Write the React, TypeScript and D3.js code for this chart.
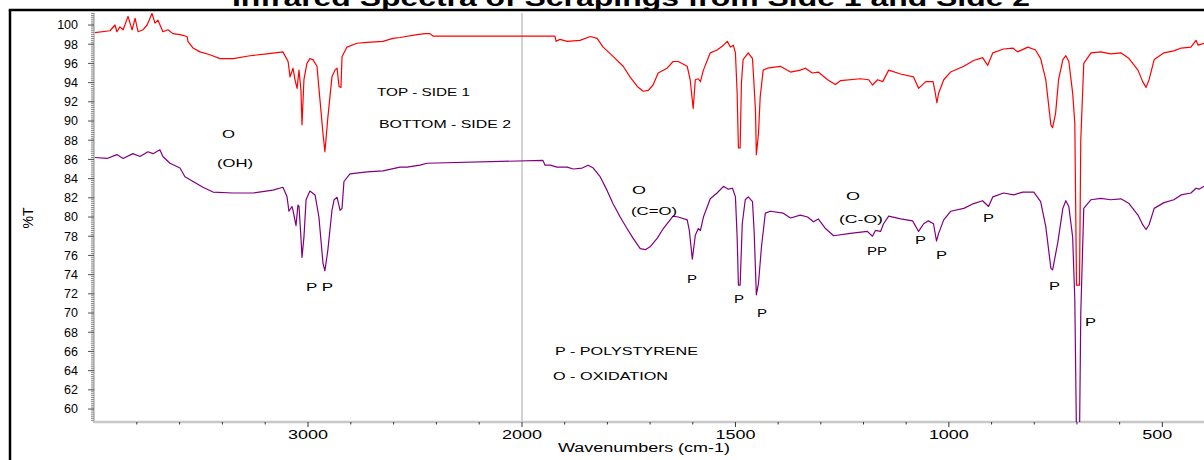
import React from 'react';
import * as d3 from 'd3';

// wavenumber (cm-1), %T
const side1: [number, number][] = [
  [3996, 99.2], [3925, 99.4], [3902, 100.0], [3893, 99.3], [3879, 99.8], [3864, 99.5],
  [3841, 100.9], [3822, 99.5], [3808, 100.7], [3794, 99.3], [3771, 99.5], [3752, 100.0],
  [3729, 101.2], [3715, 100.2], [3701, 100.5], [3678, 99.3], [3654, 99.5], [3631, 99.1],
  [3598, 99.0], [3565, 98.8], [3561, 98.3], [3537, 97.6], [3505, 97.2], [3458, 96.9],
  [3411, 96.5], [3350, 96.5], [3271, 96.8], [3192, 97.0], [3117, 97.2], [3093, 96.2],
  [3084, 94.6], [3070, 95.5], [3061, 94.3], [3051, 93.4], [3042, 95.3], [3033, 93.2],
  [3028, 89.6], [3019, 94.3], [3005, 96.0], [2991, 96.5], [2977, 96.4], [2958, 95.7],
  [2944, 92.2], [2930, 88.7], [2921, 86.8], [2907, 90.4], [2888, 94.6], [2874, 95.3],
  [2864, 95.5], [2855, 93.6], [2846, 93.5], [2841, 96.7], [2818, 97.7], [2771, 98.1],
  [2724, 98.2], [2650, 98.3], [2603, 98.6], [2570, 98.7], [2491, 99.0], [2453, 99.1],
  [2430, 99.1], [2416, 98.85], [1923, 98.85], [1920, 98.3], [1911, 98.5], [1894, 98.3],
  [1864, 98.4], [1840, 98.8], [1824, 98.6], [1810, 97.7], [1786, 96.7], [1763, 95.7],
  [1747, 94.6], [1730, 93.6], [1716, 93.1], [1704, 93.2], [1693, 93.75], [1681, 95.0],
  [1660, 95.5], [1646, 96.2], [1634, 96.2], [1613, 95.7], [1606, 94.3], [1599, 91.3],
  [1594, 94.3], [1587, 94.4], [1582, 94.1], [1575, 95.3], [1559, 97.1], [1543, 97.4],
  [1528, 97.9], [1519, 98.3], [1512, 97.7], [1505, 97.9], [1500, 97.1], [1496, 92.9],
  [1493, 87.2], [1489, 87.2], [1486, 93.9], [1482, 96.4], [1470, 97.1], [1460, 96.5],
  [1458, 95.0], [1453, 91.1], [1451, 86.5], [1446, 88.7], [1442, 92.5], [1435, 95.3],
  [1425, 95.5], [1395, 95.7], [1371, 95.1], [1348, 95.3], [1336, 95.5], [1320, 95.0],
  [1306, 95.1], [1284, 94.3], [1266, 93.8], [1254, 94.2], [1207, 94.4], [1188, 94.3],
  [1179, 93.75], [1167, 94.3], [1155, 94.1], [1141, 95.3], [1113, 94.9], [1083, 94.6],
  [1071, 93.4], [1054, 94.1], [1037, 94.1], [1033, 93.2], [1028, 91.9], [1024, 92.9],
  [1012, 94.3], [996, 95.1], [965, 95.7], [942, 96.3], [921, 96.6], [909, 95.8],
  [897, 97.1], [872, 97.5], [850, 97.6], [839, 97.2], [815, 97.7], [797, 97.4],
  [785, 96.5], [773, 94.3], [761, 89.6], [757, 89.3], [750, 90.8], [743, 94.3],
  [733, 96.4], [726, 96.8], [719, 96.2], [710, 92.9], [705, 89.8], [701, 72.9],
  [694, 72.9], [691, 88.0], [684, 96.0], [667, 97.1], [644, 97.2], [621, 97.0],
  [597, 97.1], [578, 96.5], [557, 95.3], [546, 94.1], [538, 93.5], [531, 94.3],
  [519, 96.4], [496, 97.1], [473, 97.3], [456, 97.6], [433, 97.7], [421, 98.4],
  [416, 97.9], [402, 98.1],
];

const side2: [number, number][] = [
  [3996, 86.2], [3939, 86.1], [3893, 86.5], [3864, 86.1], [3818, 86.6], [3785, 86.3],
  [3748, 86.8], [3724, 86.6], [3692, 87.0], [3678, 86.3], [3645, 85.6], [3598, 85.1],
  [3575, 84.2], [3537, 83.7], [3491, 83.1], [3444, 82.6], [3350, 82.5], [3257, 82.5],
  [3164, 82.8], [3117, 83.1], [3098, 82.1], [3089, 80.6], [3075, 81.1], [3070, 80.7],
  [3056, 79.1], [3047, 81.25], [3042, 81.1], [3033, 77.9], [3028, 75.8], [3019, 77.9],
  [3009, 81.8], [2991, 82.7], [2967, 82.3], [2949, 80.0], [2930, 75.2], [2921, 74.4],
  [2907, 76.6], [2888, 80.7], [2878, 81.8], [2864, 82.05], [2850, 80.7], [2841, 80.9],
  [2832, 83.7], [2804, 84.5], [2724, 84.7], [2650, 84.8], [2570, 85.2], [2537, 85.2],
  [2477, 85.4], [2444, 85.6], [1951, 85.9], [1946, 85.4], [1934, 85.4], [1918, 85.2],
  [1894, 85.2], [1880, 85.0], [1859, 85.1], [1845, 85.4], [1833, 85.1], [1817, 84.2],
  [1801, 82.8], [1787, 81.4], [1770, 80.0], [1754, 78.8], [1740, 77.8], [1723, 76.7],
  [1711, 76.6], [1700, 76.9], [1683, 77.8], [1669, 78.8], [1653, 79.7], [1646, 80.1],
  [1634, 80.0], [1613, 79.7], [1608, 78.6], [1601, 75.6], [1594, 78.1], [1587, 78.8],
  [1582, 78.6], [1575, 80.0], [1559, 81.9], [1543, 82.5], [1528, 83.2], [1517, 82.9],
  [1507, 83.0], [1500, 82.1], [1496, 77.9], [1493, 72.9], [1489, 72.9], [1484, 79.3],
  [1477, 81.8], [1470, 82.1], [1460, 81.6], [1456, 78.3], [1451, 71.9], [1446, 73.1],
  [1439, 76.9], [1430, 80.4], [1418, 80.6], [1388, 80.4], [1371, 79.9], [1348, 80.2],
  [1331, 80.0], [1317, 79.5], [1306, 79.8], [1289, 78.8], [1270, 78.05], [1231, 78.3],
  [1191, 78.5], [1179, 78.0], [1172, 78.6], [1160, 78.5], [1153, 79.3], [1141, 80.1],
  [1113, 79.8], [1085, 79.6], [1071, 78.5], [1059, 79.3], [1048, 79.6], [1036, 79.3],
  [1029, 77.5], [1024, 78.3], [1012, 79.7], [996, 80.6], [965, 80.9], [942, 81.4],
  [921, 81.7], [907, 81.1], [897, 82.1], [872, 82.5], [848, 82.3], [827, 82.6],
  [801, 82.6], [785, 81.6], [773, 79.0], [761, 74.65], [757, 74.5], [745, 77.3],
  [733, 80.9], [726, 81.7], [719, 81.1], [710, 77.9], [705, 71.4], [701, 57.0],
  [694, 57.0], [691, 70.0], [684, 80.9], [667, 81.8], [644, 81.95], [621, 81.8],
  [597, 81.9], [578, 81.4], [557, 80.2], [546, 79.2], [538, 78.7], [531, 79.2],
  [519, 80.9], [496, 81.5], [473, 81.8], [456, 82.3], [433, 82.5], [421, 83.0],
  [414, 82.9], [402, 83.2],
];

const yTickLabels = [60, 62, 64, 66, 68, 70, 72, 74, 76, 78, 80, 82, 84, 86, 88, 90, 92, 94, 96, 98, 100];
const xMajorTicks = [3000, 2000, 1500, 1000, 500];
const xMinorTicks = [3800, 3600, 3400, 3200, 2800, 2600, 2400, 2200, 1900, 1800, 1700, 1600,
  1400, 1300, 1200, 1100, 900, 800, 700, 600];

const font = '"Liberation Sans", Arial, sans-serif';

const App = () => {
  const x = d3.scaleLinear().domain([4000, 2000, 400]).range([94, 522, 1205]);
  const y = d3.scaleLinear().domain([58.65, 101.25]).range([422, 13]);
  const line = d3.line<[number, number]>().x((d) => x(d[0])).y((d) => y(d[1]));
  const minorY = d3.range(58.8, 101.21, 0.2);

  // annotation text: [label, left x, baseline y, width]
  const notes: [string, number, number, number][] = [
    ['TOP - SIDE 1', 377, 96, 93],
    ['BOTTOM - SIDE 2', 379, 128, 132],
    ['O', 222, 137.5, 13],
    ['(OH)', 217, 167, 36],
    ['P P', 306, 291, 27],
    ['O', 632, 194, 14],
    ['(C=O)', 631, 215, 46],
    ['P', 687, 283, 10],
    ['P', 734, 302.5, 10],
    ['P', 757, 316.5, 10],
    ['O', 846, 200, 14],
    ['(C-O)', 839, 223, 44],
    ['PP', 867, 254.5, 20],
    ['P', 915, 244, 11],
    ['P', 936, 259, 11],
    ['P', 983, 222, 11],
    ['P', 1049, 290, 11],
    ['P', 1085, 326, 11],
    ['P - POLYSTYRENE', 555, 354.5, 143],
    ['O - OXIDATION', 553, 380, 115],
  ];

  return (
    <svg width={1204} height={460} style={{ position: 'absolute', left: 0, top: 0, background: '#fff' }}
      fontFamily={font}>
      <defs>
        <clipPath id="plot">
          <rect x={94} y={13} width={1111} height={409} />
        </clipPath>
      </defs>
      <rect width={1204} height={460} fill="#fff" />
      <text x={232} y={5.5} fontSize={24} fontWeight="bold" textLength={798}
        lengthAdjust="spacingAndGlyphs">Infrared Spectra of Scrapings from Side 1 and Side 2</text>
      <line x1={8.75} x2={1204} y1={10} y2={10} stroke="#000" strokeWidth={2.5} />
      <line x1={10} x2={10} y1={10} y2={460} stroke="#000" strokeWidth={2.5} />

      {/* 2000 break */}
      <line x1={x(2000)} x2={x(2000)} y1={13} y2={422} stroke="#c4c4c4" strokeWidth={1.5} />

      {/* y axis */}
      <line x1={94} x2={94} y1={13} y2={422} stroke="#c8c8c8" strokeWidth={2} />
      {minorY.map((v, i) => (
        <line key={'m' + i} x1={91} x2={94} y1={y(v)} y2={y(v)} stroke="#8a8a8a" strokeWidth={1} />
      ))}
      {yTickLabels.map((v) => (
        <g key={'y' + v}>
          <line x1={88} x2={94} y1={y(v)} y2={y(v)} stroke="#555" strokeWidth={1} />
          <text x={78} y={y(v) + 4.3} fontSize={12.5} textAnchor="end">{v}</text>
        </g>
      ))}
      <text transform="translate(33,218) rotate(-90)" fontSize={14} textAnchor="middle">%T</text>

      {/* x axis */}
      <line x1={93} x2={1204} y1={422} y2={422} stroke="#c8c8c8" strokeWidth={2.5} />
      {xMinorTicks.map((v) => (
        <line key={'xm' + v} x1={x(v)} x2={x(v)} y1={422} y2={424.5} stroke="#333" strokeWidth={1} />
      ))}
      {xMajorTicks.map((v) => (
        <g key={'xt' + v}>
          <line x1={x(v)} x2={x(v)} y1={422} y2={427} stroke="#333" strokeWidth={1} />
          <text x={x(v) - 20} y={438.5} fontSize={12} textLength={v >= 1000 ? 40 : 30}
            lengthAdjust="spacingAndGlyphs">{v}</text>
        </g>
      ))}
      <text x={558} y={452} fontSize={12} textLength={172} lengthAdjust="spacingAndGlyphs">
        Wavenumbers (cm-1)
      </text>

      <g clipPath="url(#plot)" fill="none" strokeLinejoin="round">
        <path d={line(side2) ?? ''} stroke="#800080" strokeWidth={1.2} />
        <path d={line(side1) ?? ''} stroke="#ff0000" strokeWidth={1.2} />
      </g>

      {notes.map(([t, nx, ny, w], i) => (
        <text key={'n' + i} x={nx} y={ny} fontSize={11.5} textLength={w} lengthAdjust="spacingAndGlyphs">
          {t}
        </text>
      ))}
    </svg>
  );
};

export default App;
